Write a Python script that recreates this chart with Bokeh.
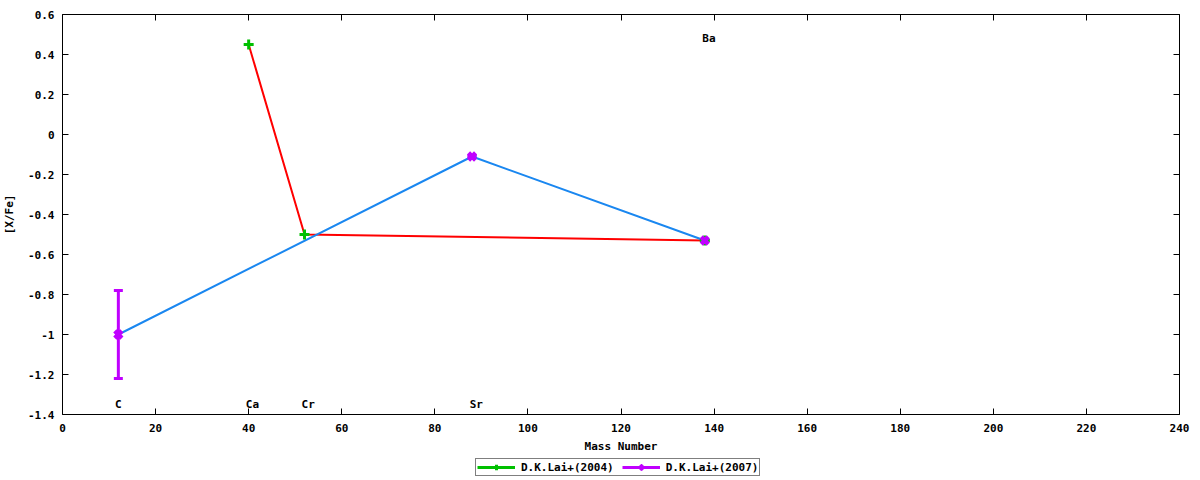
from bokeh.plotting import figure
from bokeh.layouts import column
from bokeh.models import (ColumnDataSource, Whisker, TeeHead, FixedTicker, LinearAxis,
                          Legend, LegendItem, Range1d, CustomJSTickFormatter)
from bokeh.core.properties import value
from bokeh.embed import file_html
from bokeh.resources import INLINE

# ---- data ----
lai2004_elem = ["Ca", "Cr", "Ba"]
lai2004_mass = [40, 52, 138]
lai2004_xfe = [0.45, -0.50, -0.53]

lai2007_elem = ["C", "Sr", "Ba"]
lai2007_mass = [12, 88, 138]
lai2007_xfe = [-1.00, -0.11, -0.53]
lai2007_err = [0.22, 0.0, 0.0]

label_elem = ["C", "Ca", "Cr", "Sr", "Ba"]
label_mass = [12, 40.8, 52.8, 88.9, 138.9]
label_y = [-1.35, -1.35, -1.35, -1.35, 0.48]

x_ticks = [0, 20, 40, 60, 80, 100, 120, 140, 160, 180, 200, 220, 240]
x_tick_labels = ["0", "20", "40", "60", "80", "100", "120", "140", "160", "180", "200", "220", "240"]
y_ticks = [0.6, 0.4, 0.2, 0.0, -0.2, -0.4, -0.6, -0.8, -1.0, -1.2, -1.4]
y_tick_labels = ["0.6", "0.4", "0.2", "0", "-0.2", "-0.4", "-0.6", "-0.8", "-1", "-1.2", "-1.4"]

FONT = "DejaVu Sans Mono"
FS = "11px"
GREEN = "#00c000"
PURPLE = "#c000ff"
RED = "#ff0000"
BLUE = "#1a87f0"

p = figure(width=1190, height=456, output_backend="svg", toolbar_location=None,
           x_range=Range1d(0, 240), y_range=Range1d(-1.4, 0.6),
           min_border_left=61, min_border_right=11, min_border_top=14, min_border_bottom=42)
p.grid.visible = False
p.outline_line_color = "black"
p.outline_line_width = 1

# connecting lines
p.line(lai2004_mass, lai2004_xfe, line_color=RED, line_width=2)
p.line(lai2007_mass, lai2007_xfe, line_color=BLUE, line_width=2)

# error bars
s07 = ColumnDataSource(dict(x=lai2007_mass, y=lai2007_xfe,
                            up=[v + e for v, e in zip(lai2007_xfe, lai2007_err)],
                            lo=[v - e for v, e in zip(lai2007_xfe, lai2007_err)]))
s04 = ColumnDataSource(dict(x=lai2004_mass, y=lai2004_xfe))
wh = Whisker(source=s07, base="x", upper="up", lower="lo", line_color=PURPLE, line_width=3,
             upper_head=TeeHead(size=9, line_color=PURPLE, line_width=3),
             lower_head=TeeHead(size=9, line_color=PURPLE, line_width=3))
p.add_layout(wh)

p.scatter("x", "y", source=s04, marker="cross", size=10, line_color=GREEN, line_width=3)
p.scatter("x", "y", source=s07, marker="x", size=10, line_color=PURPLE, line_width=4.5)

# element labels
p.text(label_mass, label_y, text=label_elem, text_font=value(FONT), text_font_style="bold",
       text_font_size=FS, text_align="center", text_baseline="middle", text_color="black")

# axes
for ax in (p.xaxis[0], p.yaxis[0]):
    ax.major_tick_in = 6
    ax.major_tick_out = 0
    ax.minor_tick_line_color = None
    ax.major_label_text_font = FONT
    ax.major_label_text_font_style = "bold"
    ax.major_label_text_font_size = FS
    ax.major_label_text_color = "black"
    ax.axis_label_text_font = FONT
    ax.axis_label_text_font_style = "bold"
    ax.axis_label_text_font_size = FS
    ax.axis_label_text_color = "black"
    ax.axis_line_color = None
    ax.major_tick_line_color = "black"

p.xaxis[0].ticker = FixedTicker(ticks=x_ticks)
p.xaxis[0].major_label_overrides = dict(zip(x_ticks, x_tick_labels))
p.yaxis[0].ticker = FixedTicker(ticks=y_ticks)
p.yaxis[0].major_label_overrides = dict(zip(y_ticks, y_tick_labels))
p.xaxis[0].axis_label = "Mass Number"
p.yaxis[0].axis_label = "[X/Fe]"
p.xaxis[0].major_label_standoff = 9
p.yaxis[0].major_label_standoff = 8
p.xaxis[0].axis_label_standoff = 5
p.yaxis[0].axis_label_standoff = 9

# mirror ticks
blank = CustomJSTickFormatter(code="return ''")
top = LinearAxis(ticker=FixedTicker(ticks=x_ticks), major_tick_in=6, major_tick_out=0,
                 minor_tick_line_color=None, axis_line_color=None, formatter=blank,
                 major_label_standoff=0)
right = LinearAxis(ticker=FixedTicker(ticks=y_ticks), major_tick_in=6, major_tick_out=0,
                   minor_tick_line_color=None, axis_line_color=None, formatter=blank,
                   major_label_standoff=0)
p.add_layout(top, "above")
p.add_layout(right, "right")

# legend strip below the plot (its series renderers sit outside this strip's view)
lf = figure(width=1190, height=24, output_backend="svg", toolbar_location=None,
            x_range=Range1d(0, 1), y_range=Range1d(0, 1), x_axis_type=None, y_axis_type=None,
            min_border=0, outline_line_color=None)
lf.grid.visible = False
l04 = lf.line("x", "y", source=s04, line_color=GREEN, line_width=3)
m04 = lf.scatter("x", "y", source=s04, marker="cross", size=10, line_color=GREEN, line_width=3)
l07 = lf.line("x", "y", source=s07, line_color=PURPLE, line_width=3)
m07 = lf.scatter("x", "y", source=s07, marker="x", size=10, line_color=PURPLE, line_width=4.5)

legend = Legend(items=[LegendItem(label="D.K.Lai+(2004)", renderers=[l04, m04]),
                       LegendItem(label="D.K.Lai+(2007)", renderers=[l07, m07])],
                orientation="horizontal", location=(413, 4),
                label_text_font=FONT, label_text_font_style="bold", label_text_font_size=FS,
                label_text_color="black",
                border_line_color="black", border_line_width=1, padding=1, spacing=8,
                glyph_width=38, glyph_height=14, label_height=12, label_standoff=6,
                margin=0, background_fill_alpha=1)
lf.add_layout(legend, "center")

layout = column(p, lf, spacing=0)
open("out.html", "w").write(file_html(layout, INLINE))
